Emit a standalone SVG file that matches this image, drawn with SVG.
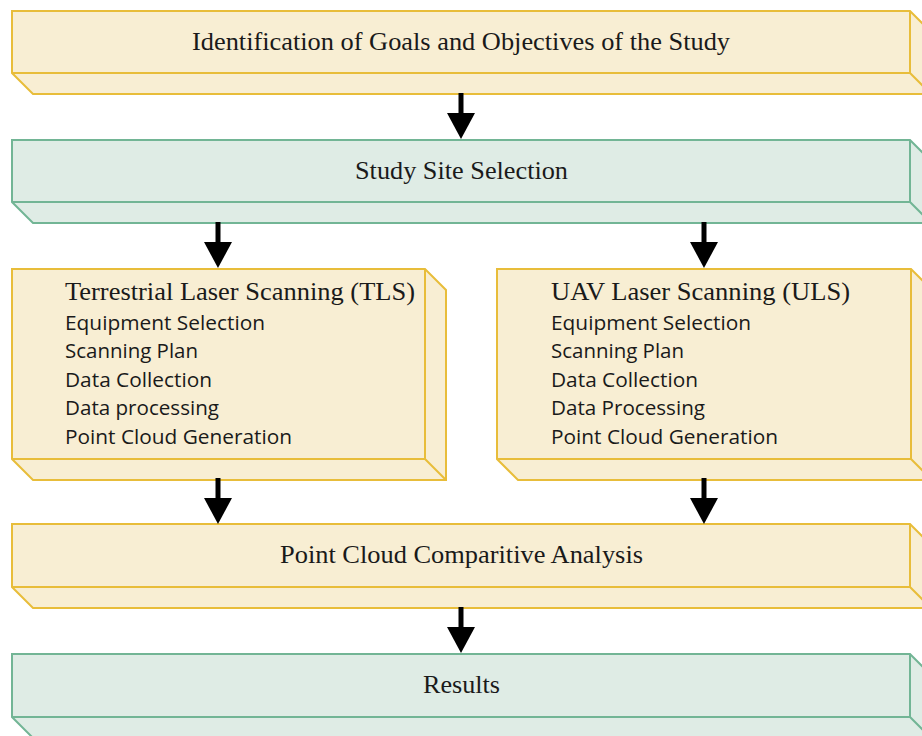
<svg xmlns="http://www.w3.org/2000/svg" width="922" height="736" viewBox="0 0 922 736">
<style>
.y{fill:#f8eed3;stroke:#e8bd3a;stroke-width:2;stroke-linejoin:miter}
.g{fill:#dfece5;stroke:#72b595;stroke-width:2;stroke-linejoin:miter}
.e{fill:none;stroke-width:2}
.ye{stroke:#e8bd3a}
.ge{stroke:#72b595}
.t{font-family:"Liberation Serif","Times New Roman",serif;font-size:26px;fill:#1a1a1a}
.s{font-family:"Open Sans","Liberation Sans",sans-serif;font-size:20px;fill:#1a1a1a}
.a{stroke:#000;stroke-width:5}
</style>
<g id="goals">
<path class="y" d="M12,11 H910 L931,32 V94 H33 L12,73 Z"/>
<path class="e ye" d="M12,73 H910 V11 M910,73 L931,94"/>
<text class="t" x="192" y="50" textLength="538" lengthAdjust="spacingAndGlyphs">Identification of Goals and Objectives of the Study</text>
</g>
<g id="site">
<path class="g" d="M12,140 H910 L931,161 V223 H33 L12,202 Z"/>
<path class="e ge" d="M12,202 H910 V140 M910,202 L931,223"/>
<text class="t" x="355" y="179" textLength="213" lengthAdjust="spacingAndGlyphs">Study Site Selection</text>
</g>
<g id="tls">
<path class="y" d="M12,269 H425 L446,290 V480 H33 L12,459 Z"/>
<path class="e ye" d="M12,459 H425 V269 M425,459 L446,480"/>
<text class="t" x="65" y="300" textLength="350" lengthAdjust="spacingAndGlyphs">Terrestrial Laser Scanning (TLS)</text>
<text class="s" x="65" y="330" textLength="200" lengthAdjust="spacingAndGlyphs">Equipment Selection</text>
<text class="s" x="65" y="358" textLength="133" lengthAdjust="spacingAndGlyphs">Scanning Plan</text>
<text class="s" x="65" y="387" textLength="147" lengthAdjust="spacingAndGlyphs">Data Collection</text>
<text class="s" x="65" y="415" textLength="154" lengthAdjust="spacingAndGlyphs">Data processing</text>
<text class="s" x="65" y="444" textLength="227" lengthAdjust="spacingAndGlyphs">Point Cloud Generation</text>
</g>
<g id="uls">
<path class="y" d="M497,269 H911 L932,290 V480 H518 L497,459 Z"/>
<path class="e ye" d="M497,459 H911 V269 M911,459 L932,480"/>
<text class="t" x="551" y="300" textLength="299" lengthAdjust="spacingAndGlyphs">UAV Laser Scanning (ULS)</text>
<text class="s" x="551" y="330" textLength="200" lengthAdjust="spacingAndGlyphs">Equipment Selection</text>
<text class="s" x="551" y="358" textLength="133" lengthAdjust="spacingAndGlyphs">Scanning Plan</text>
<text class="s" x="551" y="387" textLength="147" lengthAdjust="spacingAndGlyphs">Data Collection</text>
<text class="s" x="551" y="415" textLength="154" lengthAdjust="spacingAndGlyphs">Data Processing</text>
<text class="s" x="551" y="444" textLength="227" lengthAdjust="spacingAndGlyphs">Point Cloud Generation</text>
</g>
<g id="analysis">
<path class="y" d="M12,524 H910 L931,545 V608 H33 L12,587 Z"/>
<path class="e ye" d="M12,587 H910 V524 M910,587 L931,608"/>
<text class="t" x="280" y="563" textLength="363" lengthAdjust="spacingAndGlyphs">Point Cloud Comparitive Analysis</text>
</g>
<g id="results">
<path class="g" d="M12,654 H910 L931,675 V738 H33 L12,717 Z"/>
<path class="e ge" d="M12,717 H910 V654 M910,717 L931,738"/>
<text class="t" x="423" y="693" textLength="77" lengthAdjust="spacingAndGlyphs">Results</text>
</g>
<g id="connectors">
<line class="a" x1="461" y1="93" x2="461" y2="115"/>
<path d="M447,113 L475,113 L461,139 Z"/>
<line class="a" x1="218" y1="222" x2="218" y2="244"/>
<path d="M204,242 L232,242 L218,268 Z"/>
<line class="a" x1="704" y1="222" x2="704" y2="244"/>
<path d="M690,242 L718,242 L704,268 Z"/>
<line class="a" x1="218" y1="478" x2="218" y2="500"/>
<path d="M204,498 L232,498 L218,524 Z"/>
<line class="a" x1="704" y1="478" x2="704" y2="500"/>
<path d="M690,498 L718,498 L704,524 Z"/>
<line class="a" x1="461" y1="607" x2="461" y2="629"/>
<path d="M447,627 L475,627 L461,653 Z"/>
</g>
</svg>
